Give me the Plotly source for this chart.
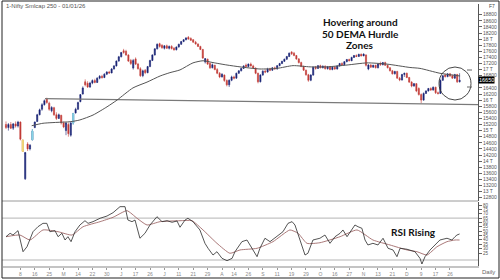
import plotly.graph_objects as go

# ---------------- data ----------------
OPEN = [15200, 15100, 15200, 15080, 15220, 15150, 15280, 14690, 13420, 14560,
        14400, 14700, 15100, 15300, 15520, 15700, 15850, 16050, 15900, 15650,
        15750, 15520, 15400, 15500, 15250, 15000, 15200, 14850, 15250, 15580,
        15700, 15950, 16200, 16600, 16550, 16430, 16560, 16640, 16580, 16720,
        16780, 16740, 16850, 16920, 16890, 17020, 17120, 17280, 17420, 17620,
        17600, 17480, 17300, 17050, 17350, 17180, 17030, 16800, 16980, 16900,
        17100, 17300, 17480, 17680, 17850, 17800, 17700, 17780, 17700, 17760,
        17700, 17650, 17740, 17830, 17920, 17980, 18060, 18020, 17980, 17900,
        17840, 17760, 17660, 17250, 17340, 17200, 17060, 17140, 17000, 16880,
        16760, 16820, 16640, 16500, 16650, 16760, 16720, 16880, 16960, 17040,
        17150, 17100, 17180, 17120, 17050, 16880, 16600, 16820, 16950, 16920,
        17020, 16980, 17060, 17020, 17130, 17200, 17270, 17340, 17430, 17580,
        17540, 17460, 17350, 17230, 17100, 16980, 16830, 16650, 16820, 17080,
        17040, 17130, 17060, 17110, 17030, 17090, 17000, 17080, 17020, 17120,
        17200, 17160, 17260, 17330, 17290, 17400, 17460, 17430, 17500, 17450,
        17480, 17020, 17150, 17080, 17140, 17060, 17200, 17160, 17230, 17140,
        17060, 16960, 16860, 16940, 16720, 16660, 16840, 16880, 16740, 16590,
        16460, 16540, 16380, 16180, 16000, 16220, 16300, 16380, 16330, 16420,
        16240, 16220, 16650, 16820, 16770, 16860, 16800, 16720, 16840, 16600]
HIGH = [15300, 15250, 15280, 15250, 15300, 15320, 15300, 14700, 14300, 14620,
        14560, 15050, 15300, 15550, 15720, 15900, 16020, 16080, 15950, 15800,
        15780, 15600, 15560, 15520, 15300, 15280, 15260, 15300, 15580, 15750,
        15950, 16200, 16450, 16680, 16620, 16600, 16680, 16700, 16750, 16820,
        16830, 16880, 16950, 16960, 17050, 17150, 17300, 17450, 17580, 17680,
        17650, 17500, 17350, 17350, 17400, 17220, 17080, 17000, 17020, 17120,
        17320, 17500, 17700, 17860, 17880, 17830, 17800, 17820, 17790, 17800,
        17740, 17760, 17850, 17940, 18000, 18060, 18100, 18060, 18000, 17940,
        17860, 17780, 17680, 17380, 17360, 17240, 17200, 17160, 17050, 16920,
        16880, 16840, 16680, 16680, 16800, 16800, 16900, 16980, 17060, 17140,
        17200, 17200, 17230, 17160, 17070, 16900, 16850, 16980, 17000, 17060,
        17060, 17080, 17100, 17150, 17220, 17290, 17360, 17450, 17560, 17600,
        17580, 17480, 17380, 17260, 17130, 17000, 16860, 16850, 17100, 17120,
        17150, 17160, 17140, 17140, 17120, 17120, 17100, 17110, 17140, 17220,
        17240, 17280, 17350, 17360, 17420, 17480, 17500, 17520, 17530, 17530,
        17500, 17180, 17180, 17160, 17160, 17200, 17260, 17250, 17260, 17160,
        17080, 16990, 16960, 16960, 16760, 16860, 16900, 16900, 16760, 16620,
        16560, 16560, 16420, 16220, 16250, 16320, 16400, 16420, 16450, 16440,
        16280, 16680, 16820, 16860, 16880, 16890, 16840, 16860, 16860, 16880]
LOW = [15050, 15000, 15050, 15020, 15100, 15100, 14680, 14300, 13380, 14330,
       14350, 14680, 15080, 15280, 15500, 15650, 15820, 15880, 15650, 15600,
       15480, 15350, 15380, 15200, 15080, 14850, 14800, 14800, 15200, 15560,
       15680, 15930, 16180, 16450, 16400, 16400, 16520, 16550, 16560, 16680,
       16700, 16720, 16820, 16860, 16880, 17000, 17100, 17260, 17400, 17520,
       17450, 17250, 17150, 17000, 17150, 17000, 16760, 16750, 16850, 16880,
       17080, 17280, 17460, 17660, 17720, 17680, 17660, 17680, 17660, 17660,
       17620, 17630, 17720, 17810, 17900, 17960, 17980, 17940, 17880, 17820,
       17740, 17640, 17350, 17200, 17150, 17020, 17040, 16980, 16850, 16720,
       16740, 16600, 16450, 16430, 16620, 16680, 16700, 16860, 16940, 17020,
       17080, 17080, 17100, 17020, 16850, 16550, 16580, 16800, 16880, 16900,
       16950, 16960, 17000, 17000, 17110, 17180, 17250, 17320, 17410, 17480,
       17440, 17320, 17200, 17080, 16960, 16800, 16600, 16620, 16800, 17000,
       17020, 17040, 17040, 17000, 17000, 16980, 16980, 16990, 17000, 17100,
       17140, 17140, 17240, 17270, 17280, 17380, 17410, 17420, 17430, 17440,
       17100, 16980, 17060, 17060, 17040, 17040, 17120, 17140, 17120, 17040,
       16940, 16840, 16840, 16700, 16620, 16640, 16760, 16720, 16560, 16420,
       16440, 16260, 16150, 15900, 15980, 16200, 16280, 16300, 16310, 16200,
       16180, 16200, 16630, 16740, 16750, 16760, 16700, 16700, 16560, 16580]
CLOSE = [15100, 15200, 15080, 15220, 15150, 15280, 14720, 14320, 14280, 14400,
         14520, 14980, 15280, 15520, 15680, 15850, 15980, 15920, 15700, 15760,
         15520, 15400, 15520, 15250, 15120, 15250, 14900, 15250, 15560, 15700,
         15920, 16180, 16400, 16500, 16430, 16560, 16640, 16580, 16720, 16780,
         16740, 16850, 16920, 16890, 17020, 17120, 17280, 17420, 17560, 17560,
         17480, 17280, 17200, 17300, 17180, 17030, 16800, 16960, 16900, 17100,
         17300, 17480, 17680, 17830, 17760, 17720, 17780, 17700, 17760, 17690,
         17650, 17740, 17830, 17920, 17980, 18040, 18000, 17960, 17900, 17840,
         17760, 17660, 17380, 17360, 17180, 17060, 17160, 17000, 16880, 16760,
         16850, 16640, 16500, 16650, 16760, 16720, 16880, 16960, 17040, 17120,
         17100, 17180, 17120, 17050, 16880, 16600, 16820, 16950, 16920, 17020,
         16980, 17060, 17020, 17130, 17200, 17270, 17340, 17430, 17540, 17520,
         17460, 17350, 17230, 17100, 16980, 16830, 16650, 16820, 17080, 17040,
         17130, 17060, 17110, 17030, 17090, 17000, 17080, 17020, 17120, 17200,
         17160, 17260, 17330, 17290, 17400, 17460, 17430, 17500, 17450, 17510,
         17140, 17150, 17080, 17140, 17060, 17180, 17160, 17230, 17140, 17060,
         16960, 16860, 16940, 16720, 16660, 16840, 16880, 16740, 16590, 16460,
         16540, 16300, 16180, 16000, 16220, 16300, 16380, 16330, 16420, 16240,
         16220, 16650, 16800, 16770, 16860, 16790, 16720, 16840, 16600, 16650]
YELLOW_BARS = [7]
CYAN_BARS = [11, 28]

DEMA_X = [10.7, 15.4, 21.25, 26.7, 30.8, 36.25, 42.1, 46.25, 52.9, 58.75,
          64.2, 68.3, 72.5, 77.9, 82.1, 86.25, 92.1, 97.5, 105.8, 112.9,
          119.6, 126.7, 133.75, 142.1, 150.4, 158.75, 168.3, 172.5, 180.8, 189.2]
DEMA_Y = [15160, 15240, 15270, 15290, 15350, 15510, 15780, 16000, 16400, 16590,
          16790, 16900, 16990, 17220, 17290, 17230, 17150, 17090, 17020, 17040,
          17130, 17090, 17090, 17150, 17220, 17180, 17070, 17040, 16880, 16790]
TREND_X = [16.25, 196.7]
TREND_Y = [16050, 15850]

RSI_X = [0, 1.7, 2.9, 5, 7.1, 8.75, 11.25, 13.3, 15.4, 17, 18.3, 20.4, 21.7, 23.3, 24.6,
         25.8, 27.1, 28.75, 30.8, 32.9, 34.2, 36.25, 39.2, 42.1, 44.6, 47.5, 49.6, 50.8,
         52.5, 53.75, 55.8, 57.9, 60, 62.9, 65, 67.1, 69.2, 71.25, 72.5, 74.6, 75.8, 77.9,
         80.8, 82.9, 84.2, 86.25, 87.9, 90, 92.1, 94.2, 95.4, 98.3, 100.4, 102.9, 104.6,
         105.8, 107.9, 110, 112.9, 115.4, 117.5, 119.2, 120.4, 122.5, 124.6, 125.8, 127.9,
         130.8, 132.9, 135, 137.1, 139.2, 140.4, 142.1, 144.2, 145.4, 146.7, 148.3, 149.6,
         150.8, 152.9, 155, 157.1, 159.2, 161.25, 162.9, 164.2, 167.1, 170.4, 172.5, 173.3,
         174.6, 176.7, 177.9, 180.8, 183.75, 185.8, 187.1, 187.9, 189]
RSI_Y = [43.7, 47.6, 45.6, 50.6, 26.5, 32.2, 49.4, 55.1, 59.0, 59.0, 49.4, 50.6, 43.7, 47.6,
         39.9, 43.7, 38.0, 49.4, 57.1, 62.0, 59.0, 60.9, 64.8, 67.4, 71.2, 78.1, 78.1, 62.8,
         60.9, 62.8, 41.9, 47.6, 57.1, 66.6, 60.9, 62.0, 60.2, 61.7, 54.5, 62.8, 64.8, 60.9,
         51.4, 36.1, 30.4, 22.7, 26.5, 18.9, 16.2, 18.9, 26.5, 38.0, 39.9, 28.5, 20.8, 30.4,
         41.9, 38.0, 43.7, 49.4, 59.0, 60.9, 57.1, 39.9, 22.7, 24.7, 39.9, 41.9, 45.6, 36.1,
         43.7, 47.6, 51.4, 43.7, 51.4, 57.1, 55.1, 53.3, 39.9, 34.2, 36.1, 34.2, 41.9, 30.4,
         28.5, 20.8, 30.4, 29.3, 26.5, 18.9, 12.4, 20.8, 28.5, 32.2, 39.9, 41.9, 39.9, 43.7,
         45.6, 46.8]
RSI_MA_X = [0, 5.8, 10, 15.4, 21.7, 27.5, 32.1, 39.2, 44.6, 50.4, 54.6, 58.75, 64.2, 72.5,
            77.5, 82.1, 87.9, 93.3, 97.5, 104.6, 111.25, 118.3, 121.7, 125.4, 130.8, 139.2,
            146.25, 152.9, 160, 167.1, 171.25, 175.4, 179.6, 183.75, 187.1, 189]
RSI_MA_Y = [43.7, 45.6, 39.9, 51.4, 49.4, 45.6, 55.1, 60.9, 65.9, 73.5, 64.8, 57.1, 60.9,
            62.0, 62.0, 51.4, 36.1, 24.7, 28.5, 30.4, 38.0, 51.4, 47.6, 36.1, 36.8, 43.7,
            51.4, 39.9, 34.2, 28.5, 26.5, 22.7, 32.2, 38.0, 39.9, 39.9]
RSI_LEVELS = [65, 17]

PRICE_TICKS = [12800, 13000, 13200, 13400, 13600, 13800, 14000, 14200, 14400, 14600,
               14800, 15000, 15200, 15400, 15600, 15800, 16000, 16200, 16400, 16600,
               16800, 17000, 17200, 17400, 17600, 17800, 18000, 18200, 18400, 18600, 18800]
HIDDEN_PRICE_TICKS = [16600]   # covered by the last-price tag in the reference
PRICE_TICK_TEXT = ["" if v in HIDDEN_PRICE_TICKS else
                   (("%d T" % (v // 1000)) if v % 1000 == 0 else str(v)) for v in PRICE_TICKS]
RSI_TICKS = [25, 30, 35, 40, 45, 50, 55, 60, 65, 70, 75, 80]
X_TICK_POS = [6, 12, 18, 24, 30, 36, 42, 48, 54, 60, 66, 72, 78, 84, 90, 95, 101, 107,
              113, 119, 125, 131, 137, 143, 149, 155, 161, 167, 173, 179, 185]
X_TICK_TEXT = ["8", "16", "25", "M", "14", "22", "30", "J", "17", "26", "J", "11", "21",
               "29", "A", "14", "26", "S", "11", "19", "29", "O", "16", "27", "N", "13",
               "21", "D", "9", "17", "26"]

TITLE = "1-Nifty Smlcap 250 - 01/01/26"
NOTE_LINES = ["Hovering around", "50 DEMA Hurdle", "Zones"]
RSI_NOTE = "RSI Rising"

# ---------------- styling ----------------
W, H = 500, 280
NAVY = "#1a2475"
RED = "#c23a36"
YELLOW = "#f2e27a"
CYAN = "#86d6e6"
SMALL = "Liberation Sans, Arial, sans-serif"
BOLD = "Lato, Carlito, Calibri, sans-serif"

def px(x):
    return x / W

def py(y):
    return (H - y) / H

X = list(range(len(CLOSE)))
XR = [-1.25, 196.67]

fig = go.Figure()

fig.add_trace(go.Candlestick(
    x=X, open=OPEN, high=HIGH, low=LOW, close=CLOSE,
    increasing=dict(line=dict(color=NAVY, width=0.6), fillcolor=NAVY),
    decreasing=dict(line=dict(color=RED, width=0.6), fillcolor=RED),
    whiskerwidth=0, showlegend=False, hoverinfo="skip", xaxis="x", yaxis="y"))

for idx_list, col in ((YELLOW_BARS, YELLOW), (CYAN_BARS, CYAN)):
    fig.add_trace(go.Candlestick(
        x=[X[i] for i in idx_list], open=[OPEN[i] for i in idx_list],
        high=[HIGH[i] for i in idx_list], low=[LOW[i] for i in idx_list],
        close=[CLOSE[i] for i in idx_list],
        increasing=dict(line=dict(color=col, width=0.8), fillcolor=col),
        decreasing=dict(line=dict(color=col, width=0.8), fillcolor=col),
        whiskerwidth=0, showlegend=False, hoverinfo="skip", xaxis="x", yaxis="y"))

fig.add_trace(go.Scatter(x=TREND_X, y=TREND_Y, mode="lines",
                         line=dict(color="#7a7a7a", width=1.2), showlegend=False,
                         hoverinfo="skip", xaxis="x", yaxis="y"))
fig.add_trace(go.Scatter(x=DEMA_X, y=DEMA_Y, mode="lines",
                         line=dict(color="#555555", width=1, shape="spline", smoothing=0.6),
                         showlegend=False, hoverinfo="skip", xaxis="x", yaxis="y"))

fig.add_trace(go.Scatter(x=RSI_MA_X, y=RSI_MA_Y, mode="lines",
                         line=dict(color="#a06a6a", width=0.9, shape="spline", smoothing=0.5),
                         showlegend=False, hoverinfo="skip", xaxis="x2", yaxis="y2"))
fig.add_trace(go.Scatter(x=RSI_X, y=RSI_Y, mode="lines",
                         line=dict(color="#2a2a2a", width=0.8),
                         showlegend=False, hoverinfo="skip", xaxis="x2", yaxis="y2"))

# price axis range from pixel calibration (18800 at y=14.7, 30.5 px per 1000)
P_TOP = 18800 + (14.7 - 4) / 0.0305
P_BOT = 18800 - (201 - 14.7) / 0.0305
R_TOP = 80 + (205 - 202) / 0.873
R_BOT = 80 - (266 - 205) / 0.873

axis_common = dict(showgrid=False, zeroline=False, fixedrange=True)

fig.update_layout(
    width=W, height=H, template="none",
    margin=dict(l=0, r=0, t=0, b=0),
    paper_bgcolor="white", plot_bgcolor="white",
    showlegend=False,
    xaxis=dict(domain=[px(3), px(478)], range=XR, anchor="y", showticklabels=False,
               ticks="", showline=False, rangeslider=dict(visible=False), **axis_common),
    xaxis2=dict(domain=[px(3), px(478)], range=XR, anchor="y2", matches="x",
                tickmode="array", tickvals=X_TICK_POS, ticktext=X_TICK_TEXT,
                ticks="outside", ticklen=2, tickcolor="#999", tickwidth=1,
                tickfont=dict(family=SMALL, size=5, color="#8a8a8a"),
                showline=True, linecolor="#c4c4c4", linewidth=2,
                rangeslider=dict(visible=False), **axis_common),
    yaxis=dict(domain=[py(201), py(4)], range=[P_BOT, P_TOP], anchor="x", side="right",
               tickmode="array", tickvals=PRICE_TICKS, ticktext=PRICE_TICK_TEXT,
               ticks="outside", ticklen=3, tickcolor="#666", tickwidth=1,
               tickfont=dict(family=SMALL, size=5, color="#555"),
               showline=True, linecolor="#555", linewidth=1, **axis_common),
    yaxis2=dict(domain=[py(266), py(202)], range=[R_BOT, R_TOP], anchor="x2", side="right",
                tickmode="array", tickvals=RSI_TICKS,
                ticks="outside", ticklen=3, tickcolor="#666", tickwidth=1,
                tickfont=dict(family=SMALL, size=4.5, color="#555"),
                showline=True, linecolor="#555", linewidth=1, **axis_common),
)

shapes = [
    dict(type="rect", xref="paper", yref="paper", x0=px(2), x1=px(499), y0=py(278), y1=py(1),
         line=dict(color="#222", width=1), layer="above"),
    dict(type="line", xref="paper", yref="paper", x0=px(2), x1=px(478), y0=py(201), y1=py(201),
         line=dict(color="#9a9a9a", width=1), layer="below"),
    dict(type="circle", xref="paper", yref="paper", x0=px(439), x1=px(471), y0=py(100), y1=py(67),
         line=dict(color="#333", width=0.9)),
    dict(type="line", xref="paper", yref="paper", x0=px(467), x1=px(472), y0=py(70), y1=py(70),
         line=dict(color="#666", width=1)),
    dict(type="line", xref="paper", yref="paper", x0=px(467), x1=px(472), y0=py(87), y1=py(87),
         line=dict(color="#666", width=1)),
]
for lv in RSI_LEVELS:
    shapes.append(dict(type="line", xref="paper", yref="y2", x0=px(2), x1=px(478), y0=lv, y1=lv,
                       line=dict(color="#b4b4b4", width=1), layer="below"))
fig.update_layout(shapes=shapes)

ann = [
    dict(text=TITLE, x=px(4), y=py(6), xref="paper", yref="paper", xanchor="left",
         yanchor="middle", showarrow=False, font=dict(family=SMALL, size=6, color="#555")),
    dict(text="F7", x=px(497), y=py(6), xref="paper", yref="paper", xanchor="right",
         yanchor="middle", showarrow=False, font=dict(family=SMALL, size=5, color="#444")),
    dict(text="Daily", x=px(497), y=py(272), xref="paper", yref="paper", xanchor="right",
         yanchor="middle", showarrow=False, font=dict(family=SMALL, size=6, color="#666")),
    dict(text=RSI_NOTE, x=px(413), y=py(232), xref="paper", yref="paper", xanchor="center",
         yanchor="middle", showarrow=False,
         font=dict(family=BOLD, size=10, color="#111", weight="bold")),
    dict(text=str(CLOSE[-1]), x=px(478), y=CLOSE[-1], xref="paper", yref="y", xanchor="left",
         yanchor="middle", showarrow=False, bgcolor="#000", borderpad=0,
         font=dict(family=SMALL, size=5.5, color="#fff")),
]
for k, (line_txt, yy) in enumerate(zip(NOTE_LINES, [22, 33.5, 45])):
    ann.append(dict(text=line_txt, x=px(360), y=py(yy), xref="paper", yref="paper",
                    xanchor="center", yanchor="middle", showarrow=False,
                    font=dict(family=BOLD, size=10, color="#111", weight="bold")))
fig.update_layout(annotations=ann)

fig.write_html("out.html", include_plotlyjs=True, full_html=True,
               config={"displayModeBar": False, "staticPlot": True})
